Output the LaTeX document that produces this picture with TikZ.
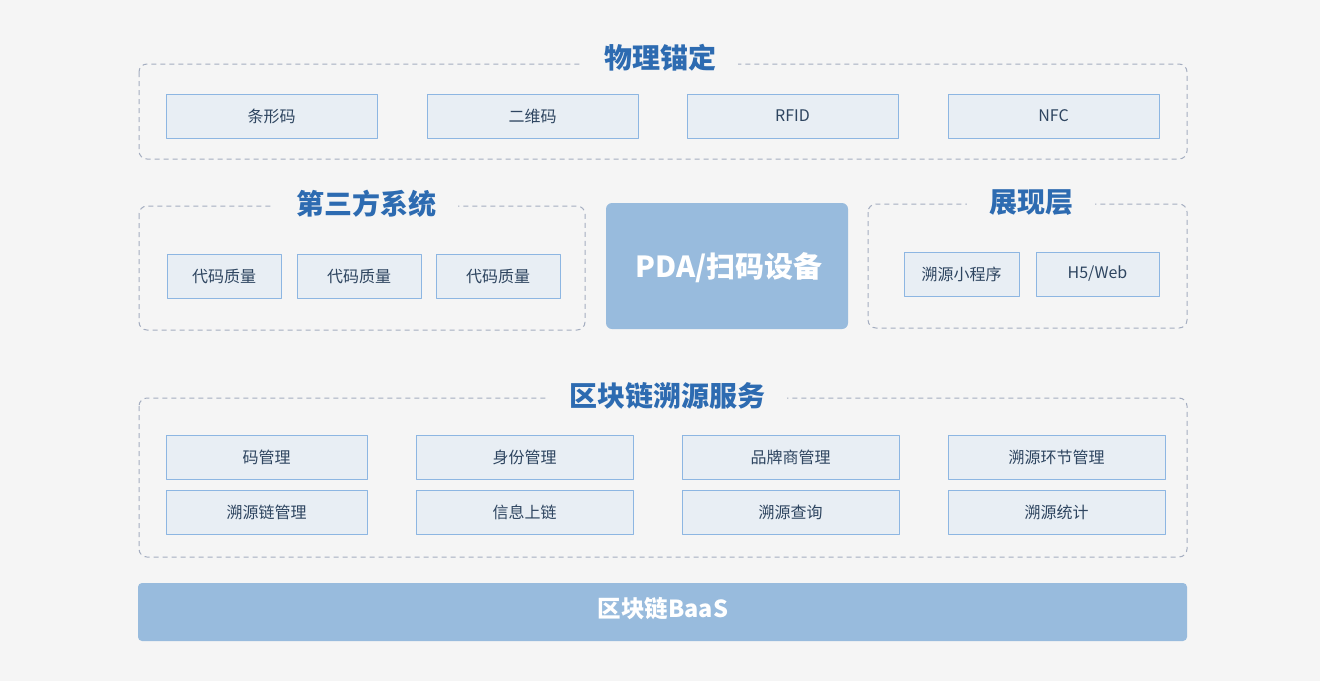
\documentclass[tikz,border=0pt]{standalone}
\usepackage{fontspec}
\setmainfont{Noto Sans CJK SC}
\definecolor{bgcol}{HTML}{F5F5F5}
\definecolor{framecol}{HTML}{A4ADC0}
\definecolor{boxfill}{HTML}{E8EEF4}
\definecolor{boxline}{HTML}{8DB6E2}
\definecolor{txtcol}{HTML}{2E4560}
\definecolor{titlecol}{HTML}{2D6BB1}
\definecolor{bigfill}{HTML}{98BBDD}
\begin{document}
\begin{tikzpicture}[x=1pt, y=-1pt, line join=round,
		frame/.style={draw=framecol, dashed, dash pattern=on 5pt off 4pt, line width=1pt, rounded corners=8pt},
		title/.style={fill=bgcol, text=titlecol, inner xsep=22pt, inner ysep=2pt, font=\fontsize{28}{28}\selectfont\bfseries},
		item/.style={draw=boxline, fill=boxfill, text=txtcol, line width=0.8pt, font=\fontsize{16}{16}\selectfont, minimum height=44pt, inner sep=0pt},
		big/.style={fill=bigfill, text=white, rounded corners=6pt, inner sep=0pt, font=\bfseries}]
	\fill[bgcol] (0,0) rectangle (1320,681);
	% physical anchors
	\draw[frame] (139,64) rectangle (1187,159);
	\node[title] (anchor) at (660,58) {物理锚定};
	\node[item, minimum width=211pt] (barcode) at (271.5,116) {条形码};
	\node[item, minimum width=211pt] (qrcode) at (532.5,116) {二维码};
	\node[item, minimum width=211pt] (rfid) at (792.5,116) {RFID};
	\node[item, minimum width=211pt] (nfc) at (1053.5,116) {NFC};
	% third party
	\draw[frame] (139,206) rectangle (585,330);
	\node[title] (third) at (366,204) {第三方系统};
	\node[item, minimum width=114pt] (codeA) at (224,276) {代码质量};
	\node[item, minimum width=124pt] (codeB) at (359,276) {代码质量};
	\node[item, minimum width=124pt] (codeC) at (498,276) {代码质量};
	\node[big, minimum width=242pt, minimum height=126pt] (pda) at (727,266) {};
	\node[text=white, font=\fontsize{29}{29}\selectfont\bfseries] (pdatext) at (729,268) {PDA/扫码设备};
	% display layer
	\draw[frame] (868,204) rectangle (1187,328);
	\node[title] (show) at (1031,203) {展现层};
	\node[item, minimum width=115pt] (mini) at (961.5,274) {溯源小程序};
	\node[item, minimum width=123pt] (web) at (1097.5,274) {H5/Web};
	% trace services
	\draw[frame] (139,398) rectangle (1187,557);
	\node[title] (service) at (667,396) {区块链溯源服务};
	\foreach \name/\cx/\w/\ta/\tb in {c1/266.5/201/码管理/溯源链管理, c2/524.5/217/身份管理/信息上链, c3/790.5/217/品牌商管理/溯源查询, c4/1056.5/217/溯源环节管理/溯源统计}{
		\node[item, minimum width=\w pt] (\name a) at (\cx,457) {\ta};
		\node[item, minimum width=\w pt] (\name b) at (\cx,512) {\tb};
	}
	\node[big, rounded corners=4pt, minimum width=1049pt, minimum height=58pt] (baas) at (662.5,612) {};
	\node[text=white, font=\fontsize{23.5}{23.5}\selectfont\bfseries] (baastext) at (663,609) {区块链BaaS};
\end{tikzpicture}
\end{document}
